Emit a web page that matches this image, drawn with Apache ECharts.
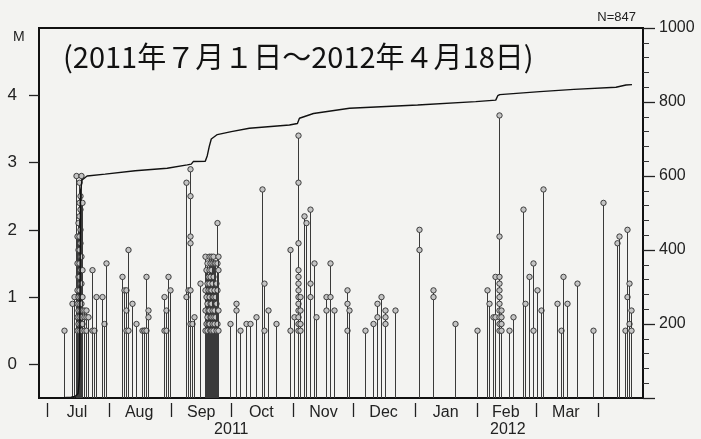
<!DOCTYPE html>
<html><head><meta charset="utf-8">
<script src="https://cdn.jsdelivr.net/npm/echarts@6/dist/echarts.min.js"></script>
<style>html,body{margin:0;padding:0;background:#f3f3f1;}#c{width:701px;height:439px;}</style>
</head><body><div id="c"></div>
<script>
const titleText = '(2011年７月１日～2012年４月18日)';
const countLabel = 'N=847';
const magName = 'M';
const axisMin = '2011-06-27';
const axisMax = '2012-04-23 12:00';
const monthTickDates = ['2011-07-01','2011-08-01','2011-09-01','2011-10-01','2011-11-01','2011-12-01','2012-01-01','2012-02-01','2012-03-01','2012-04-01'];
const monthLabelDates = ['2011-07-16','2011-08-16','2011-09-16','2011-10-16','2011-11-16','2011-12-16','2012-01-16','2012-02-15','2012-03-16'];
const monthNames = ['Jul','Aug','Sep','Oct','Nov','Dec','Jan','Feb','Mar'];
const yearLabelDates = ['2011-10-01','2012-02-16'];
const yearNames = ['2011','2012'];
const magTicks = [0,1,2,3,4];
const countTicks = [200,400,600,800,1000];

// event times (dates without a time are taken at noon) and the magnitudes recorded then
const eventDates = [
'2011-07-09','2011-07-13','2011-07-14','2011-07-15',
'2011-07-16 00:00','2011-07-16 12:00','2011-07-17 00:00','2011-07-17 12:00','2011-07-18 00:00','2011-07-18 12:00',
'2011-07-19','2011-07-20','2011-07-21',
'2011-07-23','2011-07-24','2011-07-25','2011-07-28','2011-07-29','2011-07-30',
'2011-08-07','2011-08-08','2011-08-09','2011-08-10','2011-08-12','2011-08-14','2011-08-17','2011-08-18','2011-08-19','2011-08-20',
'2011-08-28','2011-08-29','2011-08-30','2011-08-31',
'2011-09-08','2011-09-09','2011-09-10','2011-09-11','2011-09-12','2011-09-15',
'2011-09-18 00:00','2011-09-18 12:00','2011-09-19 00:00','2011-09-19 12:00','2011-09-20 00:00','2011-09-20 12:00',
'2011-09-21 00:00','2011-09-21 12:00','2011-09-22 00:00','2011-09-22 12:00','2011-09-23 00:00','2011-09-23 12:00',
'2011-09-24 00:00','2011-09-24 12:00','2011-09-30',
'2011-10-03','2011-10-05','2011-10-08','2011-10-10','2011-10-13','2011-10-16','2011-10-17','2011-10-19','2011-10-23','2011-10-30',
'2011-11-01','2011-11-03','2011-11-04','2011-11-06','2011-11-07','2011-11-09','2011-11-11','2011-11-12','2011-11-17','2011-11-19',
'2011-11-21','2011-11-27','2011-11-28',
'2011-12-06','2011-12-10','2011-12-12','2011-12-14','2011-12-16','2011-12-21',
'2012-01-02','2012-01-09','2012-01-20','2012-01-31',
'2012-02-05','2012-02-06','2012-02-08','2012-02-09','2012-02-11','2012-02-12','2012-02-16','2012-02-18','2012-02-23','2012-02-24',
'2012-02-26','2012-02-28',
'2012-03-01','2012-03-03','2012-03-04','2012-03-11','2012-03-13','2012-03-14','2012-03-16','2012-03-21','2012-03-29',
'2012-04-03','2012-04-10','2012-04-11','2012-04-14','2012-04-15','2012-04-16','2012-04-17'
];
const eventMags = [
[0.5],[0.9],[1.0],[2.8],
[1.9,1.5,1.1,0.9,0.7,0.5],[2.1,1.7,1.3,1.0,0.8,0.6],[2.7,2.4,2.2,1.9,1.7,1.5,1.3,1.1,0.9,0.7,0.5],
[2.5,2.3,2.0,1.8,1.6,1.4,1.2,1.0,0.8,0.6],[2.8,1.6,1.2,0.9,0.7,0.5],[2.4,1.4,1.0,0.8,0.6],
[0.8,0.7,0.5],[0.8,0.7,0.5],[0.7],
[1.4,0.5],[0.5],[1.0],[1.0],[0.6],[1.5],
[1.3],[1.1],[1.1,0.8,0.5],[1.7,0.5],[0.9],[0.6],[0.5],[0.5,0.5],[1.3,0.5],[0.8,0.7],
[1.0,0.5],[0.8,0.5],[1.3],[1.1],
[2.7,1.0],[1.1],[2.9,2.5,1.9,1.8,1.1,0.6],[0.6],[0.7],[1.2],
[1.6,1.1,0.8,0.5],[1.4,1.0,0.6],[1.5,1.2,0.9,0.7,0.5],[1.3,1.1,0.8,0.6],[1.6,1.4,1.2,1.0,0.8,0.6],[1.5,1.3,1.1,0.9,0.7,0.5,0.5],
[1.6,1.4,1.1,0.9,0.7,0.5],[1.5,1.2,1.0,0.8,0.6],[1.6,1.3,1.0,0.7,0.5],[1.5,1.1,0.8,0.6],[1.5,1.0,0.7],[1.2,0.9,0.5],
[2.1,1.5,1.1,0.6],[1.6,1.4,0.8,0.5],[0.6],
[0.9,0.8],[0.5],[0.6],[0.6],[0.7],[2.6],[1.2,0.5],[0.8],[0.6],[1.7,0.5],
[0.7],[3.4,2.7,1.8,1.4,1.3,1.2,1.1,1.0,0.9,0.8,0.7,0.6,0.5],[1.0,0.8,0.6,0.5],[2.2],[2.1],[2.3,1.2,1.0],[1.5],[0.7],[1.0,0.8],[1.5,1.0],
[0.8],[1.1,0.9,0.5],[0.8],
[0.5],[0.6],[0.9,0.7],[1.0],[0.8,0.7,0.6],[0.8],
[2.0,1.7],[1.1,1.0],[0.6],[0.5],
[1.1],[0.9],[0.7],[1.3,0.7],[3.7,1.9,1.3,1.2,1.1,1.0,0.9,0.8,0.7,0.6,0.5],[0.8,0.7,0.6,0.5],[0.5],[0.7],[2.3],[0.9],
[1.3],[1.5,0.5],
[1.1],[0.8],[2.6],[0.9],[0.5],[1.3],[0.9],[1.2],[0.5],
[2.4],[1.8],[1.9],[0.5],[2.0,1.0],[1.2,0.6],[0.8,0.5]
];

const cumDates = ['2011-07-01','2011-07-09','2011-07-13','2011-07-15','2011-07-16 12:00','2011-07-17 06:00','2011-07-17 18:00','2011-07-18 12:00','2011-07-21','2011-07-30','2011-08-14','2011-08-30','2011-09-09','2011-09-11','2011-09-12','2011-09-18','2011-09-19','2011-09-20','2011-09-21','2011-09-24','2011-10-01','2011-10-10','2011-10-30','2011-11-03','2011-11-04','2011-11-11','2011-11-29','2012-01-02','2012-01-31','2012-02-10','2012-02-11','2012-02-12','2012-03-03','2012-03-20','2012-04-10','2012-04-15','2012-04-18'];
const cumCounts = [0,1,2,4,12,60,560,589,600,605,614,621,630,632,639,640,655,680,700,712,720,729,738,742,756,769,783,792,801,805,817,820,828,834,840,846,847];

// date string -> day number (UTC days since epoch, fractional hours)
function toDay(s, defaultHour) {
  const [d, t] = s.split(' ');
  const [y, mo, da] = d.split('-').map(Number);
  let h = defaultHour || 0, mi = 0;
  if (t) { [h, mi] = t.split(':').map(Number); }
  return Date.UTC(y, mo - 1, da, h, mi) / 86400000;
}
const events = [];
eventDates.forEach((d, i) => eventMags[i].forEach(m => events.push([toDay(d, 12), m])));
const cumData = cumDates.map((d, i) => [toDay(d), cumCounts[i]]);
const xMin = toDay(axisMin), xMax = toDay(axisMax);
const monthTicks = monthTickDates.map(d => toDay(d));
const monthLabelVals = monthLabelDates.map(d => toDay(d));
const yearLabelVals = yearLabelDates.map(d => toDay(d));

const FONT = 'Liberation Sans';
function lookup(vals, names) {
  return v => { const i = vals.findIndex(x => Math.abs(x - v) < 0.01); return i < 0 ? '' : names[i]; };
}

const chart = echarts.init(document.getElementById('c'), null, {renderer: 'canvas'});
chart.setOption({
  backgroundColor: '#f3f3f1',
  animation: false,
  title: [
    {text: titleText, left: 58, top: 37, textStyle: {fontFamily: 'Noto Sans CJK JP', fontSize: 29, fontWeight: 'normal', color: '#111'}},
    {text: countLabel, right: 60, top: 6, textStyle: {fontFamily: FONT, fontSize: 13, fontWeight: 'normal', color: '#222'}},
    {text: magName, left: 8, top: 25, textStyle: {fontFamily: FONT, fontSize: 14, fontWeight: 'normal', color: '#222'}}
  ],
  grid: {left: 39, right: 58, top: 28, bottom: 41, show: true, borderColor: '#111', borderWidth: 2, backgroundColor: 'transparent'},
  xAxis: [
    {type: 'value', min: xMin, max: xMax, position: 'bottom',
     axisLine: {show: true, onZero: false, lineStyle: {color: '#111', width: 2}},
     axisTick: {show: false}, axisLabel: {show: false}, splitLine: {show: false}},
    {type: 'value', min: xMin, max: xMax, position: 'bottom', offset: 5,
     axisLine: {show: false, onZero: false},
     axisTick: {show: true, customValues: monthTicks, length: 14, lineStyle: {color: '#222', width: 1.3}},
     axisLabel: {show: true, customValues: monthLabelVals, formatter: lookup(monthLabelVals, monthNames), margin: 2,
                 fontFamily: FONT, fontSize: 16, color: '#222', hideOverlap: false},
     splitLine: {show: false}},
    {type: 'value', min: xMin, max: xMax, position: 'bottom', offset: 0,
     axisLine: {show: false, onZero: false}, axisTick: {show: false},
     axisLabel: {show: true, customValues: yearLabelVals, formatter: lookup(yearLabelVals, yearNames), margin: 24,
                 fontFamily: FONT, fontSize: 16, color: '#222', hideOverlap: false},
     splitLine: {show: false}}
  ],
  yAxis: [
    {type: 'value', min: -0.5, max: 5, position: 'left',
     axisLine: {show: true, onZero: false, lineStyle: {color: '#111', width: 2}},
     axisTick: {show: true, customValues: magTicks, length: 10, lineStyle: {color: '#222', width: 1.3}},
     axisLabel: {customValues: magTicks, margin: 22, fontFamily: FONT, fontSize: 17, color: '#222'},
     splitLine: {show: false}},
    {type: 'value', min: 0, max: 1000, interval: 200, position: 'right',
     axisLine: {show: true, onZero: false, lineStyle: {color: '#111', width: 2}},
     axisTick: {show: true, length: 12, lineStyle: {color: '#222', width: 1.3}},
     minorTick: {show: true, splitNumber: 5, length: 6, lineStyle: {color: '#333', width: 1}},
     axisLabel: {customValues: countTicks, formatter: v => String(v), margin: 16, fontFamily: FONT, fontSize: 16, color: '#222'},
     splitLine: {show: false}}
  ],
  series: [
    {type: 'custom', xAxisIndex: 0, yAxisIndex: 0, data: events, encode: {x: 0, y: 1}, z: 2,
     renderItem: function (params, api) {
       const t = api.value(0), m = api.value(1);
       const top = api.coord([t, m]);
       const base = api.coord([t, -0.5]);
       const x = Math.round(top[0]) + 0.5;
       return {type: 'group', children: [
         {type: 'line', shape: {x1: x, y1: base[1], x2: x, y2: top[1]}, style: {stroke: '#3a3a3a', lineWidth: 1}},
         {type: 'circle', shape: {cx: x, cy: top[1], r: 2.7}, style: {fill: '#c4c4c4', stroke: '#2e2e2e', lineWidth: 0.9}}
       ]};
     }},
    {type: 'line', xAxisIndex: 0, yAxisIndex: 1, data: cumData, showSymbol: false, symbol: 'none', z: 5,
     lineStyle: {color: '#111', width: 1.4}}
  ]
});
</script></body></html>
